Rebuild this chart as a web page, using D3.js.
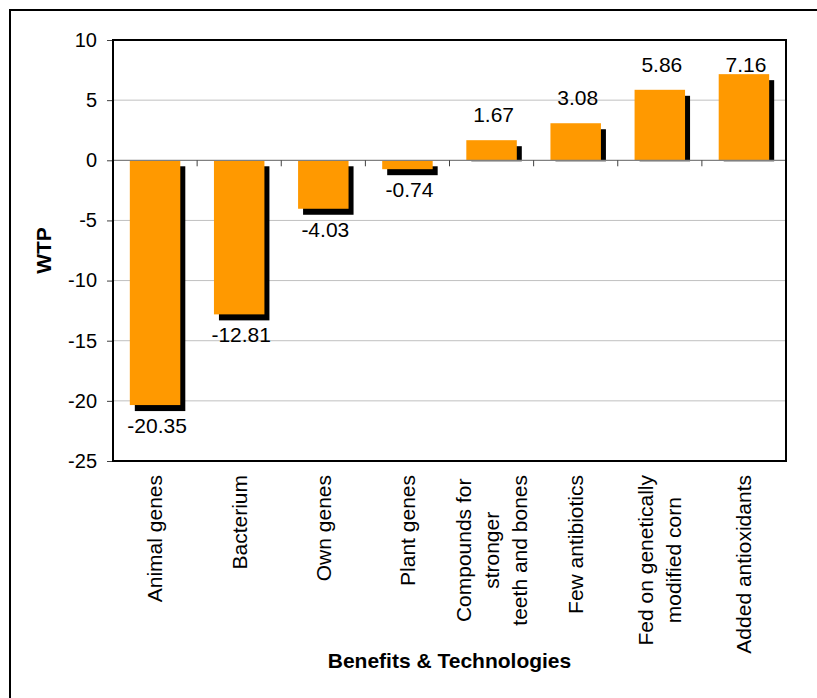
<!DOCTYPE html>
<html><head><meta charset="utf-8">
<script src="https://cdn.jsdelivr.net/npm/d3@7"></script>
<style>body{margin:0;background:#fff;} svg{display:block;font-family:"Liberation Sans",Arial,sans-serif;}</style>
</head><body>
<svg id="chart" width="817" height="698"></svg>
<script>
const categories = ["Animal genes","Bacterium","Own genes","Plant genes","Compounds for\nstronger\nteeth and bones","Few antibiotics","Fed on genetically\nmodified corn","Added antioxidants"];
const values = [-20.35,-12.81,-4.03,-0.74,1.67,3.08,5.86,7.16];
const yTicks = [10,5,0,-5,-10,-15,-20,-25];
const yDomain = [-25,10];
const xTitle = "Benefits & Technologies";
const yTitle = "WTP";

(function(){
const svg = d3.select("#chart");
const m = {left:113, top:40, right:786, bottom:461};
const x = d3.scaleBand().domain(categories).range([m.left,m.right]).paddingInner(0.4).paddingOuter(0.2);
const y = d3.scaleLinear().domain(yDomain).range([m.bottom,m.top]);
const step = x.step();

// outer border
svg.append("rect").attr("x",10).attr("y",10).attr("width",830).attr("height",720)
  .attr("fill","none").attr("stroke","#000").attr("stroke-width",2);

// gridlines
svg.append("g").selectAll("line").data(yTicks.filter(t=>t!==0 && t!==yDomain[0] && t!==yDomain[1])).join("line")
  .attr("x1",m.left).attr("x2",m.right).attr("y1",d=>y(d)).attr("y2",d=>y(d))
  .attr("stroke","#c0c0c0").attr("stroke-width",1);

// bars shadow + bars
const dx = 5, dy = 6;
svg.append("g").selectAll("rect").data(values).join("rect")
  .attr("x",(d,i)=>x(categories[i])+dx)
  .attr("y",d=> d>=0 ? y(d)+dy : y(0)+dy)
  .attr("width",x.bandwidth())
  .attr("height",d=> d>=0 ? Math.max(0,y(0)-y(d)-dy+1) : y(d)-y(0))
  .attr("fill","#000");
svg.append("g").selectAll("rect").data(values).join("rect")
  .attr("x",(d,i)=>x(categories[i]))
  .attr("y",d=>Math.min(y(d),y(0)))
  .attr("width",x.bandwidth())
  .attr("height",d=>Math.abs(y(d)-y(0)))
  .attr("fill","#FF9900");

// zero line
svg.append("line").attr("x1",m.left).attr("x2",m.right).attr("y1",y(0)).attr("y2",y(0))
  .attr("stroke","#808080").attr("stroke-width",1.2);
// x ticks at category boundaries on zero line
svg.append("g").selectAll("line").data(d3.range(1,categories.length)).join("line")
  .attr("x1",i=>m.left+i*step).attr("x2",i=>m.left+i*step)
  .attr("y1",y(0)).attr("y2",y(0)+6).attr("stroke","#404040").attr("stroke-width",1);

// y axis
const yAxis = d3.axisLeft(y).tickValues(yTicks).tickSize(6).tickPadding(10).tickFormat(d=>String(d));
const ga = svg.append("g").attr("transform",`translate(${m.left},0)`).call(yAxis);
ga.select(".domain").remove();
ga.selectAll(".tick line").attr("stroke","#404040");
ga.selectAll(".tick text").attr("font-size",20).attr("fill","#000").attr("font-family","Liberation Sans, Arial, sans-serif");

// plot frame
svg.append("rect").attr("x",m.left).attr("y",m.top).attr("width",m.right-m.left).attr("height",m.bottom-m.top)
  .attr("fill","none").attr("stroke","#000").attr("stroke-width",2);

// value labels
svg.append("g").selectAll("text").data(values).join("text")
  .attr("x",(d,i)=>x(categories[i])+x.bandwidth()/2+2)
  .attr("y",d=> d>=0 ? Math.max(y(d)-18, y(yDomain[1])+32) : y(d)+28)
  .attr("text-anchor","middle").attr("font-size",21).attr("fill","#000")
  .text(d=>d.toFixed(2));

// x labels
const fs = 21, lh = 28, labelTop = 475;
categories.forEach((c,i)=>{
  const lines = c.split("\n");
  const cx = x(c)+x.bandwidth()/2;
  const g = svg.append("g").attr("transform",`translate(${cx},${labelTop}) rotate(-90)`);
  const ts = lines.map((l,j)=>g.append("text").attr("font-size",fs).attr("fill","#000")
    .attr("y",(j-(lines.length-1)/2)*lh).attr("dy","0.35em").text(l));
  const W = d3.max(ts,t=>t.node().getComputedTextLength());
  ts.forEach(t=>t.attr("text-anchor","middle").attr("x",-W/2));
});

// axis titles
svg.append("text").attr("x",(m.left+m.right)/2).attr("y",668).attr("text-anchor","middle")
  .attr("font-size",21).attr("font-weight","bold").text(xTitle);
svg.append("text").attr("transform",`translate(50.5,${(m.top+m.bottom)/2}) rotate(-90)`)
  .attr("text-anchor","middle").attr("font-size",21).attr("font-weight","bold").text(yTitle);
})();
</script>
</body></html>
